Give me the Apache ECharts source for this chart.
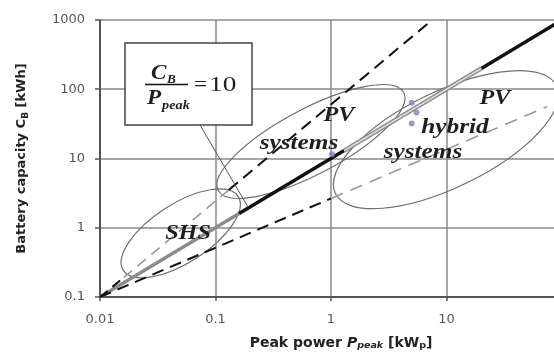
<!DOCTYPE html>
<html><head><meta charset="utf-8">
<script src="https://cdn.jsdelivr.net/npm/echarts@6/dist/echarts.min.js"></script>
<style>html,body{margin:0;padding:0;background:#fff}#c{width:554px;height:358px}</style>
</head><body><div id="c"></div>
<script>
// ---- tick labels ----
const xTickLabels = ['0.01', '0.1', '1', '10', '100'];
const yTickLabels = ['0.1', '1', '10', '100', '1000'];

// ---- C_B / P_peak = 10 line (break points where the drawing style changes) ----
const ratioP = [0.01, 0.16, 1.3, 20, 100];
const ratioC = [0.1, 1.6, 13, 200, 1000];
// ---- upper dashed bound ----
const upperP = [0.01, 0.016, 0.13, 7.5];
const upperC = [0.1, 0.19, 3.5, 1000];
// ---- lower dashed bound ----
const lowerP = [0.01, 1, 74];
const lowerC = [0.1, 2.65, 56];
// ---- hybrid system points ----
const pointsP = [1.02, 5.0, 5.5, 5.0];
const pointsC = [11.5, 64, 46, 32];
// ---- region ellipses: centre, major-axis tip, minor/major ratio ----
const ellNames   = ['SHS', 'PV systems', 'PV hybrid systems'];
const ellCenterP = [0.050, 0.67, 9.9];
const ellCenterC = [0.83, 17.6, 18.7];
const ellTipP    = [0.157, 4.26, 89.8];
const ellTipC    = [2.84, 90, 112];
const ellRatio   = [0.43, 0.31, 0.39];

function seg(P, C, i, j) {
  const out = [];
  for (let k = i; k <= j; k++) out.push([P[k], C[k]]);
  return out;
}
function lbl(arr) {
  return function (v) { const i = Math.round(Math.log10(v) - Math.log10(parseFloat(arr[0]))); return arr[i] || ''; };
}
function lineSeries(data, color, width, type, z) {
  return { type: 'line', data: data, symbol: 'none', silent: true, z: z || 3,
    lineStyle: { color: color, width: width, type: type || 'solid', cap: 'butt' } };
}

const chart = echarts.init(document.getElementById('c'), null, { renderer: 'canvas' });
const serifBI = 'italic bold 22px "Liberation Serif", "Times New Roman", serif';
const vm = { textVerticalAlign: 'middle', verticalAlign: 'middle' };
function txt(x, y, s, font, sx, align) {
  return { type: 'text', z: 31, x: x, y: y, scaleX: sx,
    style: Object.assign({ text: s, font: font, fill: '#1e1e1e', textAlign: align || 'center' }, vm) };
}

const option = {
  animation: false,
  backgroundColor: '#fff',
  grid: { left: 100, top: 20, right: -8, bottom: 61, outerBoundsMode: 'none', containLabel: false },
  xAxis: {
    type: 'log', logBase: 10, min: 0.01, max: 100,
    name: 'Peak power {i|P}{si|peak} [kW{s|p}]',
    nameLocation: 'middle', nameGap: 38,
    nameTextStyle: { fontFamily: 'DejaVu Sans', fontWeight: 'bold', fontSize: 14, color: '#222', lineHeight: 16, padding: [0, 0, 0, 20],
      rich: {
        i: { fontFamily: 'DejaVu Sans', fontWeight: 'bold', fontStyle: 'italic', fontSize: 14, color: '#222', lineHeight: 16 },
        si: { fontFamily: 'DejaVu Sans', fontWeight: 'bold', fontStyle: 'italic', fontSize: 9.5, color: '#222', lineHeight: 9, verticalAlign: 'bottom' },
        s: { fontFamily: 'DejaVu Sans', fontWeight: 'bold', fontSize: 9.5, color: '#222', lineHeight: 9, verticalAlign: 'bottom' }
      } },
    axisLine: { show: true, onZero: false, lineStyle: { color: '#555', width: 2 } },
    axisTick: { show: true, length: 4, lineStyle: { color: '#555', width: 1.5 } },
    axisLabel: { formatter: lbl(xTickLabels), margin: 16, fontFamily: 'DejaVu Sans', fontSize: 13, color: '#555', showMaxLabel: false },
    splitLine: { show: true, lineStyle: { color: '#8a8a8a', width: 1.5 } },
    minorTick: { show: false }
  },
  yAxis: {
    type: 'log', logBase: 10, min: 0.1, max: 1000,
    name: 'Battery capacity C{s|B} [kWh]',
    nameLocation: 'middle', nameGap: 70, nameRotate: 90,
    nameTextStyle: { fontFamily: 'DejaVu Sans', fontWeight: 'bold', fontSize: 13, color: '#222', lineHeight: 16,
      rich: {
        s: { fontFamily: 'DejaVu Sans', fontWeight: 'bold', fontSize: 9, color: '#222', lineHeight: 9, verticalAlign: 'bottom' }
      } },
    axisLine: { show: true, onZero: false, lineStyle: { color: '#555', width: 2 } },
    axisTick: { show: true, length: 5, lineStyle: { color: '#555', width: 1.5 } },
    axisLabel: { formatter: lbl(yTickLabels), margin: 15, fontFamily: 'DejaVu Sans', fontSize: 13, color: '#555' },
    splitLine: { show: true, lineStyle: { color: '#8a8a8a', width: 1.5 } }
  },
  series: [
    {
      type: 'custom', coordinateSystem: 'cartesian2d', silent: true, z: 2, clip: false,
      encode: { x: [0, 2], y: [1, 3] },
      data: ellNames.map((n, i) => [ellCenterP[i], ellCenterC[i], ellTipP[i], ellTipC[i], ellRatio[i]]),
      renderItem: function (params, api) {
        const c = api.coord([api.value(0), api.value(1)]);
        const t = api.coord([api.value(2), api.value(3)]);
        const dx = t[0] - c[0], dy = t[1] - c[1];
        const rx = Math.sqrt(dx * dx + dy * dy);
        return {
          type: 'ellipse', x: c[0], y: c[1], rotation: Math.atan2(-dy, dx),
          shape: { cx: 0, cy: 0, rx: rx, ry: rx * api.value(4) },
          style: { fill: 'none', stroke: '#6e6e6e', lineWidth: 1.2 }
        };
      }
    },
    // C/P = 10 line
    lineSeries(seg(ratioP, ratioC, 0, 1), '#8c8c8c', 3.5, 'solid', 4),
    lineSeries(seg(ratioP, ratioC, 1, 2), '#111', 3.5, 'solid', 4),
    lineSeries(seg(ratioP, ratioC, 2, 3), '#8c8c8c', 4.5, 'solid', 4),
    lineSeries(seg(ratioP, ratioC, 2, 3), '#e2e2e2', 1.6, 'solid', 5),
    lineSeries(seg(ratioP, ratioC, 3, 4), '#111', 3.5, 'solid', 4),
    // upper dashed
    lineSeries(seg(upperP, upperC, 0, 1), '#111', 2, [10, 6], 4),
    lineSeries(seg(upperP, upperC, 1, 2), '#9a9a9a', 1.6, [11, 7], 4),
    lineSeries(seg(upperP, upperC, 2, 3), '#111', 2, [12, 7], 4),
    // lower dashed
    lineSeries(seg(lowerP, lowerC, 0, 1), '#111', 2, [12, 7], 4),
    lineSeries(seg(lowerP, lowerC, 1, 2), '#9a9a9a', 1.6, [13, 8], 4),
    {
      type: 'scatter', silent: true, z: 6, symbolSize: 6,
      itemStyle: { color: '#8080c4' },
      data: pointsP.map((p, i) => [p, pointsC[i]])
    }
  ],
  graphic: [
    { type: 'line', z: 20, shape: { x1: 200, y1: 125, x2: 248, y2: 207 }, style: { stroke: '#555', lineWidth: 1 } },
    { type: 'rect', z: 30, shape: { x: 125, y: 43, width: 127, height: 82 }, style: { fill: '#fff', stroke: '#444', lineWidth: 1.5 } },
    txt(151, 74, 'C', 'italic bold 21px "Liberation Serif", serif', 1.1, 'left'),
    txt(167, 80, 'B', 'italic bold 12px "Liberation Serif", serif', 1.1, 'left'),
    { type: 'line', z: 31, shape: { x1: 145, y1: 84.5, x2: 188, y2: 84.5 }, style: { stroke: '#111', lineWidth: 1.5 } },
    txt(147, 99, 'P', 'italic bold 21px "Liberation Serif", serif', 1.1, 'left'),
    txt(162, 106, 'peak', 'italic bold 13px "Liberation Serif", serif', 1.1, 'left'),
    txt(194, 85, '=', '21px "Liberation Serif", serif', 1.1, 'left'),
    txt(209, 85, '10', '21px "Liberation Serif", serif', 1.3, 'left'),
    txt(188, 233, 'SHS', serifBI, 1.1),
    txt(339, 115, 'PV', serifBI, 1.1),
    txt(299, 143, 'systems', serifBI, 1.15),
    txt(495, 98, 'PV', serifBI, 1.1),
    txt(455, 127, 'hybrid', serifBI, 1.15),
    txt(423, 152, 'systems', serifBI, 1.15)
  ]
};
chart.setOption(option);
</script></body></html>
